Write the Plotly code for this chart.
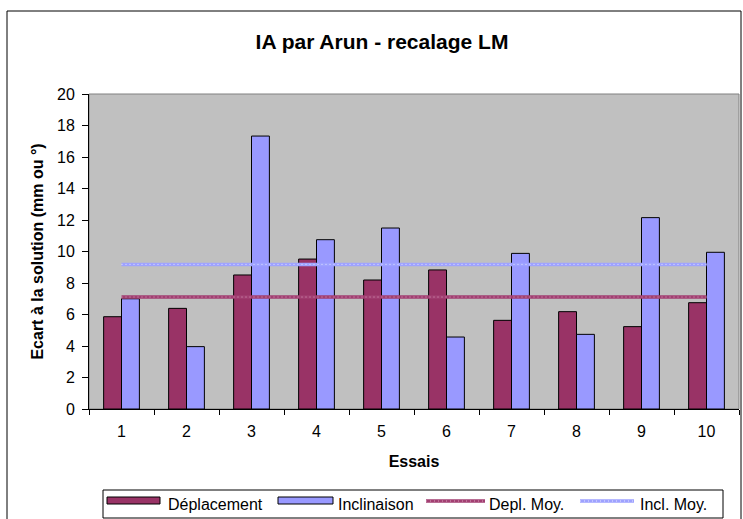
import plotly.graph_objects as go

# Trials and measured deviations
essais = ["1", "2", "3", "4", "5", "6", "7", "8", "9", "10"]
deplacement = [5.86, 6.39, 8.51, 9.52, 8.19, 8.83, 5.63, 6.18, 5.23, 6.75]
inclinaison = [7.00, 3.96, 17.33, 10.75, 11.49, 4.57, 9.88, 4.74, 12.15, 9.95]

depl_moy = sum(deplacement) / len(deplacement)
incl_moy = sum(inclinaison) / len(inclinaison)

FONT = "Liberation Sans, Arial, sans-serif"
C_DEPL = "#993366"
C_INCL = "#9999FF"
C_DEPL_MOY, C_DEPL_DOT = "#A23F72", "#D9A2BC"
C_INCL_MOY, C_INCL_DOT = "#9EA2FF", "#E6E6FF"

fig = go.Figure()

fig.add_trace(go.Bar(
    x=essais, y=deplacement, name="Déplacement",
    marker=dict(color=C_DEPL, line=dict(color="black", width=1)),
))
fig.add_trace(go.Bar(
    x=essais, y=inclinaison, name="Inclinaison",
    marker=dict(color=C_INCL, line=dict(color="black", width=1)),
))

# Mean lines: a coloured band with lighter dots on top (chain-of-rings look)
for val, name, col, dot in [(depl_moy, "Depl. Moy.", C_DEPL_MOY, C_DEPL_DOT),
                            (incl_moy, "Incl. Moy.", C_INCL_MOY, C_INCL_DOT)]:
    fig.add_trace(go.Scatter(
        x=essais, y=[val] * len(essais), name=name, mode="lines",
        line=dict(color=col, width=3.5),
    ))
    fig.add_trace(go.Scatter(
        x=essais, y=[val] * len(essais), mode="lines", showlegend=False,
        line=dict(color=dot, width=1, dash="1px,3px"), hoverinfo="skip",
    ))

# Plot area: x 89..739 px, y 94..409 px
L, T, W, H = 89, 94, 650, 315
def px_x(p):
    return (p - L) / W
def px_y(p):
    return (T + H - p) / H

shapes = [
    # grey frame of the plot area
    dict(type="rect", xref="paper", yref="paper", x0=0, x1=1, y0=0, y1=1,
         line=dict(color="#808080", width=1), layer="below"),
    # outer chart border
    dict(type="rect", xref="paper", yref="paper",
         x0=px_x(7), x1=px_x(741), y0=px_y(530), y1=px_y(11),
         line=dict(color="black", width=1), layer="below"),
    # legend frame
    dict(type="rect", xref="paper", yref="paper",
         x0=px_x(103), x1=px_x(723), y0=px_y(518), y1=px_y(490),
         line=dict(color="black", width=1), fillcolor="white", layer="above"),
]
annotations = []

# Legend entries: (label, kind, colour, dot colour, swatch x0, swatch x1, text x)
legend_items = [
    ("Déplacement", "bar", C_DEPL, None, 107, 160, 166),
    ("Inclinaison", "bar", C_INCL, None, 278, 333, 336),
    ("Depl. Moy.", "line", C_DEPL_MOY, C_DEPL_DOT, 426, 485, 487),
    ("Incl. Moy.", "line", C_INCL_MOY, C_INCL_DOT, 580, 634, 638),
]
for label, kind, col, dot, sx0, sx1, tx in legend_items:
    if kind == "bar":
        shapes.append(dict(type="rect", xref="paper", yref="paper",
                           x0=px_x(sx0), x1=px_x(sx1), y0=px_y(504), y1=px_y(497),
                           fillcolor=col, line=dict(color="black", width=1),
                           layer="above"))
    else:
        shapes.append(dict(type="line", xref="paper", yref="paper",
                           x0=px_x(sx0), x1=px_x(sx1), y0=px_y(501), y1=px_y(501),
                           line=dict(color=col, width=3.5), layer="above"))
        shapes.append(dict(type="line", xref="paper", yref="paper",
                           x0=px_x(sx0), x1=px_x(sx1), y0=px_y(501), y1=px_y(501),
                           line=dict(color=dot, width=1, dash="1px,3px"),
                           layer="above"))
    annotations.append(dict(text=label, xref="paper", yref="paper",
                            x=px_x(tx), y=px_y(504), xanchor="left",
                            yanchor="middle", showarrow=False,
                            font=dict(family=FONT, size=16, color="black")))

fig.update_layout(
    width=743, height=519,
    margin=dict(l=L, r=743 - L - W, t=T, b=519 - T - H),
    paper_bgcolor="white",
    plot_bgcolor="#C0C0C0",
    barmode="group", bargap=0.45, bargroupgap=0,
    showlegend=False,
    font=dict(family=FONT, size=16, color="black"),
    title=dict(
        text="<b>IA par Arun - recalage LM</b>",
        x=382 / 743, xref="container", xanchor="center",
        y=1 - 42 / 519, yref="container", yanchor="middle",
        font=dict(family=FONT, size=21, color="black"),
    ),
    xaxis=dict(
        type="category", tickson="boundaries", ticks="outside", ticklen=5,
        tickcolor="black", showline=True, linecolor="black", linewidth=1,
        showgrid=False, tickfont=dict(size=16), ticklabelstandoff=8,
        title=dict(text="<b>Essais</b>", font=dict(size=16), standoff=16),
    ),
    yaxis=dict(
        range=[0, 20], dtick=2, ticks="outside", ticklen=6, tickcolor="black",
        showline=True, linecolor="black", linewidth=1, showgrid=False,
        zeroline=False, tickfont=dict(size=16), ticklabelstandoff=4,
        title=dict(text="<b>Ecart à la solution (mm ou °)</b>",
                   font=dict(size=16), standoff=9),
    ),
    shapes=shapes,
    annotations=annotations,
)

fig.write_html("out.html")
